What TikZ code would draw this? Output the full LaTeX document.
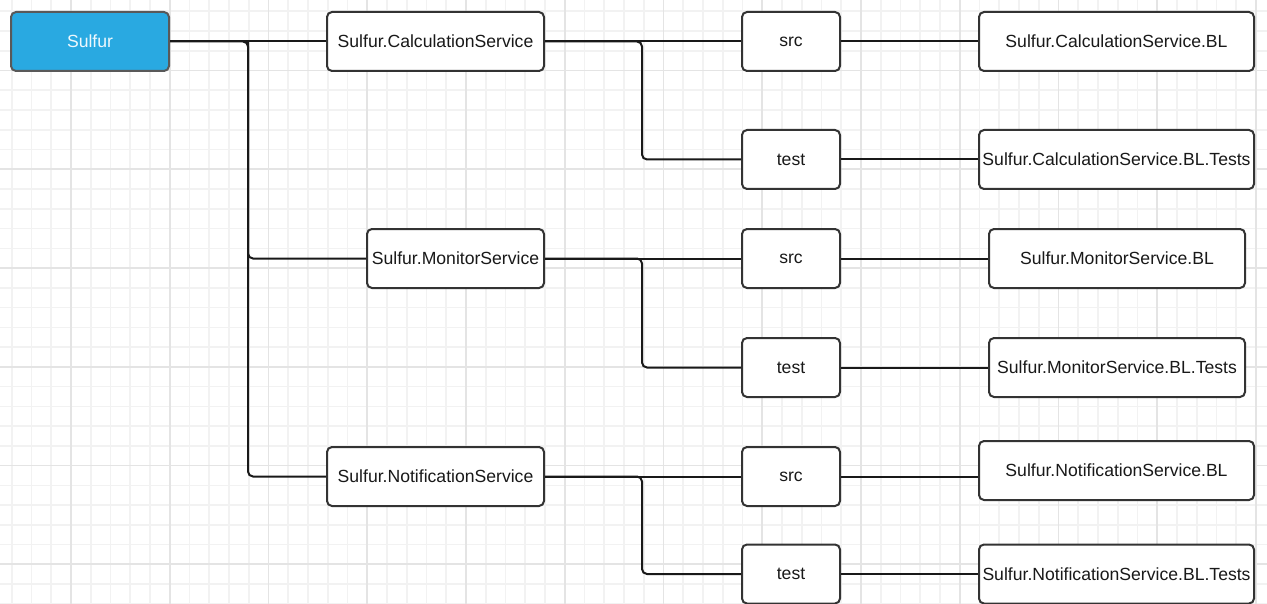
\documentclass[tikz,border=0pt]{standalone}
\usepackage{fontspec}
\setmainfont{Liberation Sans}
\usepackage{xcolor}
\usetikzlibrary{positioning}

\definecolor{sulfurblue}{HTML}{29A9E1}
\definecolor{gridminor}{HTML}{F2F2F2}
\definecolor{gridmajor}{HTML}{E4E4E4}
\definecolor{edgegray}{HTML}{333333}

\begin{document}
\begin{tikzpicture}[x=0.5pt, y=-0.5pt,
        box/.style={rectangle, draw=edgegray, line width=1pt, fill=white, rounded corners=2.5pt, minimum height=29.5pt, inner sep=0pt, font=\fontsize{8.8}{10}\selectfont, text=black!90},
        root/.style={box, fill=sulfurblue, draw=black!65, text=white!92!sulfurblue},
        dir/.style={box, minimum width=49pt},
        conn/.style={draw=black!90, line width=1pt, rounded corners=2.5pt}]

    \useasboundingbox (0,0) rectangle (1267,604);
    \fill[white] (0,0) rectangle (1267,604);

    % grid
    \foreach \k in {0,...,64}
        \draw[gridminor, line width=0.8pt] ({11.75+19.75*\k},0) -- ({11.75+19.75*\k},604);
    \foreach \k in {0,...,30}
        \draw[gridminor, line width=0.8pt] (0,{11.3+19.75*\k}) -- (1267,{11.3+19.75*\k});
    \foreach \k in {0,...,12}
        \draw[gridmajor, line width=0.9pt] ({71+98.75*\k},0) -- ({71+98.75*\k},604);
    \foreach \k in {0,...,5}
        \draw[gridmajor, line width=0.9pt] (0,{70.55+98.75*\k}) -- (1267,{70.55+98.75*\k});

    % nodes
    \node (sulfur) [root, minimum width=79pt] at (90,41.5) {Sulfur};

    \node (calc) [box, minimum width=108.5pt] at (435.5,41.5) {Sulfur.CalculationService};
    \node (calcsrc) [dir] at (791,41.5) {src};
    \node (calctest) [dir] at (791,159.5) {test};
    \node (calcbl) [box, minimum width=137.5pt] at (1116.5,41.5) {Sulfur.CalculationService.BL};
    \node (calctests) [box, minimum width=137.5pt] at (1116.5,159.5) {Sulfur.CalculationService.BL.Tests};

    \node (mon) [box, minimum width=88.5pt] at (455.5,258.5) {Sulfur.MonitorService};
    \node (monsrc) [dir] at (791,258.5) {src};
    \node (montest) [dir] at (791,367.5) {test};
    \node (monbl) [box, minimum width=128pt] at (1117,258.5) {Sulfur.MonitorService.BL};
    \node (montests) [box, minimum width=128pt] at (1117,367.5) {Sulfur.MonitorService.BL.Tests};

    \node (notif) [box, minimum width=108.5pt] at (435.5,476.5) {Sulfur.NotificationService};
    \node (notifsrc) [dir] at (791,476.5) {src};
    \node (notiftest) [dir] at (791,574) {test};
    \node (notifbl) [box, minimum width=137.5pt] at (1116.5,470.5) {Sulfur.NotificationService.BL};
    \node (notiftests) [box, minimum width=137.5pt] at (1116.5,574) {Sulfur.NotificationService.BL.Tests};

    % junctions
    \coordinate (j0) at (248,41.5);
    \coordinate (jcalc) at (642,41.5);
    \coordinate (jmon) at (642,258.5);
    \coordinate (jnotif) at (642,476.5);

    % connectors
    \draw[conn] (sulfur.east) -- (calc.west);
    \draw[conn] (sulfur.east) -- (j0) |- (notif.west);
    \draw[conn] (j0) |- (mon.west);

    \draw[conn] (calc.east) -- (calcsrc.west);
    \draw[conn] (calc.east) -- (jcalc) |- (calctest.west);
    \draw[conn] (mon.east) -- (monsrc.west);
    \draw[conn] (mon.east) -- (jmon) |- (montest.west);
    \draw[conn] (notif.east) -- (notifsrc.west);
    \draw[conn] (notif.east) -- (jnotif) |- (notiftest.west);

    \draw[conn] (calcsrc) -- (calcbl);
    \draw[conn] (calctest) -- (calctests);
    \draw[conn] (monsrc) -- (monbl);
    \draw[conn] (montest) -- (montests);
    \draw[conn] (notifsrc.east) -- (notifsrc.east -| notifbl.west);
    \draw[conn] (notiftest) -- (notiftests);
\end{tikzpicture}
\end{document}
